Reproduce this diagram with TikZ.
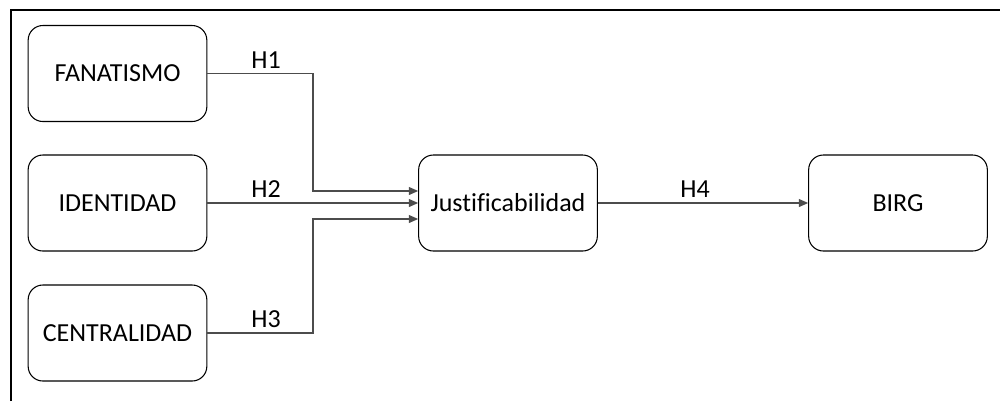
\documentclass[tikz,border=0pt]{standalone}
\usepackage{fontspec}
\setmainfont{Carlito}[Ligatures={NoCommon}]
\usetikzlibrary{arrows.meta}

\tikzset{
  caja/.style={draw=black, rounded corners=11pt, minimum width=134pt,
    minimum height=72pt, line width=0.8pt, text=black,
    font=\fontsize{19.5}{23}\selectfont},
  flecha/.style={draw=black!70, line width=0.8pt,
    -{Triangle[length=7pt,width=6pt]}},
  etiq/.style={text=black, font=\fontsize{19.5}{23}\selectfont}
}

\begin{document}
\begin{tikzpicture}[x=0.75pt, y=-0.75pt]
\useasboundingbox (0,0) rectangle (1000,401);

% marco
\draw[line width=1.6pt] ( 11, 401 ) -- ( 11, 10 ) -- ( 1000, 10 );

% cajas
\node[caja] (fan)  at ( 117.5,  73.5 ) { FANATISMO };
\node[caja] (iden) at ( 117.5, 203   ) { IDENTIDAD };
\node[caja] (cent) at ( 117.5, 333   ) { CENTRALIDAD };
\node[caja] (just) at ( 508,   203   ) { Justificabilidad };
\node[caja] (birg) at ( 898,   203   ) { BIRG };

% flechas
\draw[flecha] (fan.east)  -- ( 313, 73.5 ) |- ([yshift=9pt]just.west);
\draw[flecha] (iden.east) -- (just.west);
\draw[flecha] (cent.east) -- ( 313, 333 ) |- ([yshift=-12pt]just.west);
\draw[flecha] (just.east) -- (birg.west);

% hipotesis
\node[etiq] (h1) at ( 266,  60 ) { H1 };
\node[etiq] (h2) at ( 266, 189 ) { H2 };
\node[etiq] (h3) at ( 266, 319 ) { H3 };
\node[etiq] (h4) at ( 695, 189 ) { H4 };

\end{tikzpicture}
\end{document}
